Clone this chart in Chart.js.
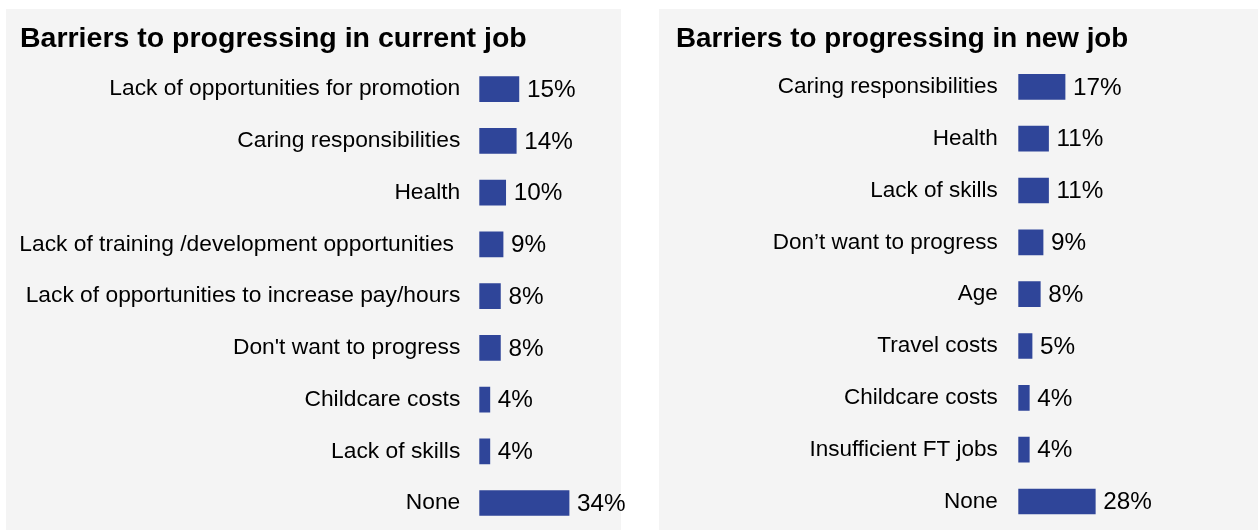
<!DOCTYPE html>
<html>
<head>
<meta charset="utf-8">
<script src="https://cdn.jsdelivr.net/npm/chart.js@4/dist/chart.umd.min.js"></script>
<style>
    body { margin: 0; background: #ffffff; width: 1258px; height: 530px; position: relative; overflow: hidden; }
    .panel { position: absolute; background: #f4f4f4; }
    canvas { position: absolute; top: 0; }
</style>
</head>
<body>
<div class="panel" style="left:6px; top:9px; width:615px; height:521px;"></div>
<div class="panel" style="left:659px; top:9px; width:599px; height:521px;"></div>
<canvas id="currentChart" width="640" height="530" style="left:0px;"></canvas>
<canvas id="newChart" width="608" height="530" style="left:650px;"></canvas>
<script>
var currentTitle = "Barriers to progressing in current job";
var currentLabels = [
    "Lack of opportunities for promotion",
    "Caring responsibilities",
    "Health",
    "Lack of training /development opportunities ",
    "Lack of opportunities to increase pay/hours",
    "Don't want to progress",
    "Childcare costs",
    "Lack of skills",
    "None"
];
var currentValues = [15, 14, 10, 9, 8, 8, 4, 4, 34];

var newTitle = "Barriers to progressing in new job";
var newLabels = [
    "Caring responsibilities",
    "Health",
    "Lack of skills",
    "Don\u2019t want to progress",
    "Age",
    "Travel costs",
    "Childcare costs",
    "Insufficient FT jobs",
    "None"
];
var newValues = [17, 11, 11, 9, 8, 5, 4, 4, 28];

Chart.defaults.font.family = "'Liberation Sans', Arial, sans-serif";
Chart.defaults.color = "#000000";

// prints "NN%" just past the end of every bar
var valueLabels = {
    id: "valueLabels",
    afterDatasetsDraw: function (chart) {
        var ctx = chart.ctx;
        var meta = chart.getDatasetMeta(0);
        var data = chart.data.datasets[0].data;
        ctx.save();
        ctx.font = "24.3px 'Liberation Sans', Arial, sans-serif";
        ctx.fillStyle = "#000000";
        ctx.textAlign = "left";
        ctx.textBaseline = "middle";
        meta.data.forEach(function (bar, i) {
            ctx.fillText(data[i] + "%", bar.x + 8, bar.y + 1);
        });
        ctx.restore();
    }
};

function makeChart(id, title, labels, values, opts) {
    var ctx = document.getElementById(id).getContext("2d");
    // eslint-disable-next-line no-undef,no-new
    new Chart(ctx, {
        type: "bar",
        data: {
            labels: labels,
            datasets: [
                {
                    data: values,
                    backgroundColor: "#2f4599",
                    borderWidth: 0,
                    barThickness: 25,
                },
            ],
        },
        options: {
            indexAxis: "y",
            responsive: false,
            animation: false,
            layout: {
                padding: { left: opts.left, right: opts.right, top: 0, bottom: opts.bottom },
            },
            plugins: {
                legend: { display: false },
                tooltip: { enabled: false },
                title: {
                    display: true,
                    text: title,
                    align: "start",
                    color: "#000000",
                    font: { size: 28.5, weight: "bold", lineHeight: 1.2 },
                    padding: { top: 22.5, bottom: opts.titleGap },
                },
            },
            scales: {
                x: {
                    display: false,
                    min: 0,
                    max: 40,
                },
                y: {
                    grid: { display: false, drawTicks: false },
                    border: { display: false },
                    ticks: {
                        padding: opts.labelGap,
                        font: { size: opts.labelSize },
                        color: "#000000",
                    },
                    afterFit: function (scale) {
                        // fixed label column; labels may not push the plot area inwards
                        scale.width = opts.axisWidth;
                        scale.paddingTop = 0;
                        scale.paddingBottom = 0;
                    },
                },
            },
        },
        plugins: [valueLabels],
    });
}

makeChart("currentChart", currentTitle, currentLabels, currentValues, {
    left: 20, right: 55.1, bottom: 1.1, titleGap: 6.6, labelGap: 19, axisWidth: 459.3, labelSize: 22.8,
});
makeChart("newChart", newTitle, newLabels, newValues, {
    left: 26, right: 129.7, bottom: 2.6, titleGap: 4.2, labelGap: 20.5, axisWidth: 342.3, labelSize: 22.5,
});
</script>
</body>
</html>
